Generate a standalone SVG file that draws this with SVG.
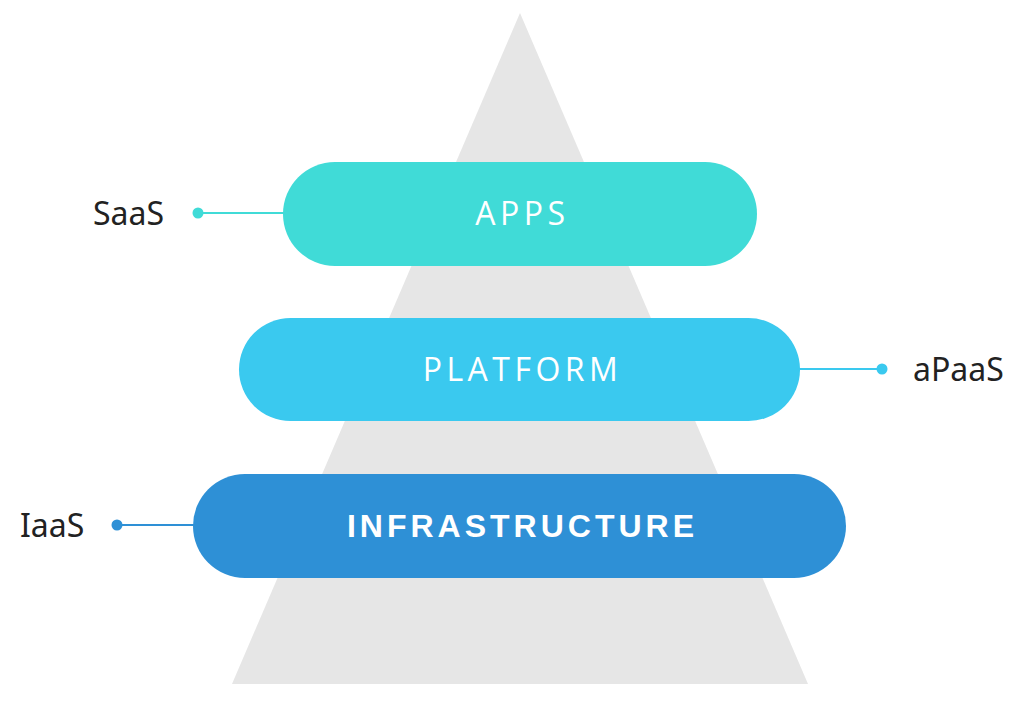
<svg xmlns="http://www.w3.org/2000/svg" width="1024" height="706" viewBox="0 0 1024 706">
<style>
.lbl{font-family:"Noto Sans","Open Sans",sans-serif;font-size:32px;fill:#222;}
.pt{font-family:"Open Sans","Noto Sans",sans-serif;font-size:32px;fill:#fff;letter-spacing:4.5px;font-weight:500;}
.pb{font-family:"Liberation Sans",Arial,sans-serif;font-size:32px;fill:#fff;letter-spacing:4px;font-weight:700;}
</style>
<rect width="1024" height="706" fill="#fff"/>
<polygon points="520,13 808,684 232,684" fill="#e6e6e6"/>
<g id="connectors">
<line x1="198" y1="213" x2="290" y2="213" stroke="#40dbd7" stroke-width="2"/>
<circle cx="198" cy="213" r="5.5" fill="#40dbd7"/>
<line x1="790" y1="369" x2="882" y2="369" stroke="#3ac9ef" stroke-width="2"/>
<circle cx="882" cy="369" r="5.5" fill="#3ac9ef"/>
<line x1="117" y1="525" x2="200" y2="525" stroke="#2e90d6" stroke-width="2"/>
<circle cx="117" cy="525" r="5.5" fill="#2e90d6"/>
</g>
<g id="apps">
<rect x="283" y="162" width="474" height="104" rx="52" fill="#40dbd7"/>
<text class="pt" x="522.5" y="225" text-anchor="middle">APPS</text>
</g>
<g id="platform">
<rect x="239" y="318" width="561" height="103" rx="51.5" fill="#3ac9ef"/>
<text class="pt" x="522.5" y="381" text-anchor="middle">PLATFORM</text>
</g>
<g id="infrastructure">
<rect x="193" y="474" width="653" height="104" rx="52" fill="#2e90d6"/>
<text class="pb" x="522.5" y="537" text-anchor="middle">INFRASTRUCTURE</text>
</g>
<g id="saas"><text class="lbl" x="93" y="225">SaaS</text></g>
<g id="apaas"><text class="lbl" x="913" y="381">aPaaS</text></g>
<g id="iaas"><text class="lbl" x="20" y="537">IaaS</text></g>
</svg>
